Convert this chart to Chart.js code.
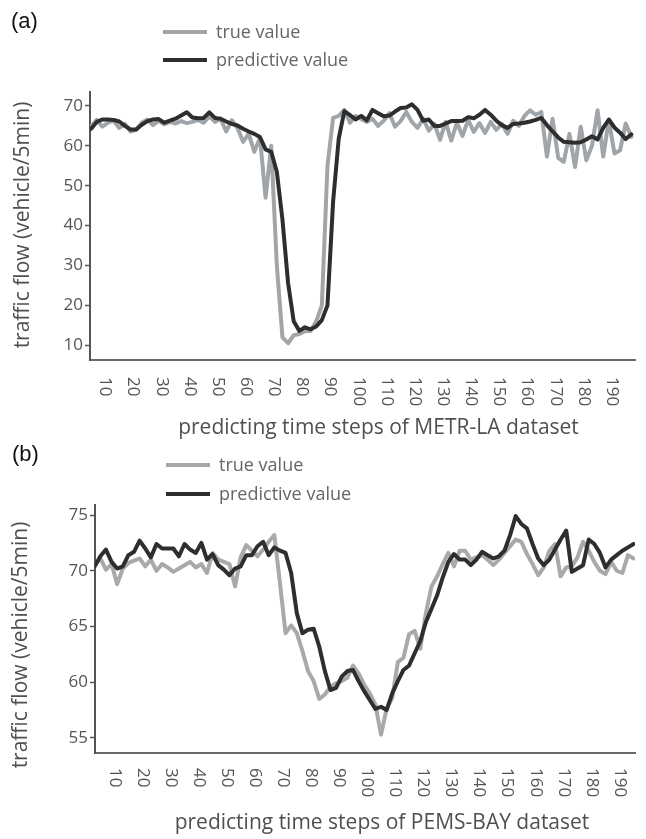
<!DOCTYPE html>
<html><head><meta charset="utf-8">
<script src="https://cdn.jsdelivr.net/npm/chart.js@4.4.1/dist/chart.umd.min.js"></script>
<style>
html,body{margin:0;padding:0;background:#fff;}
#wrap{position:relative;width:646px;height:839px;overflow:hidden;font-family:"Open Sans",sans-serif;}
.pl{position:absolute;font-family:"Liberation Sans",Arial,sans-serif;font-size:22px;color:#111;line-height:1;}
.lg{position:absolute;font-family:"Open Sans",sans-serif;font-size:18px;color:#666;line-height:1;white-space:nowrap;}
.sw{position:absolute;height:4px;width:44px;}
canvas{position:absolute;left:0;}
</style></head><body>
<div id="wrap">
  <canvas id="ca" width="646" height="440" style="top:0px"></canvas>
  <canvas id="cb" width="646" height="399" style="top:440px"></canvas>
  <div class="pl" style="left:11px;top:10px">(a)</div>
  <div class="sw" style="left:163px;top:30px;background:#a0a5aa"></div>
  <div class="lg" style="left:216px;top:22px">true value</div>
  <div class="sw" style="left:163px;top:58px;background:#2e2e2e"></div>
  <div class="lg" style="left:216px;top:50px">predictive value</div>
  <div class="pl" style="left:12px;top:443px">(b)</div>
  <div class="sw" style="left:166px;top:463px;background:#a9a9a9"></div>
  <div class="lg" style="left:219px;top:455px">true value</div>
  <div class="sw" style="left:166px;top:492px;background:#2e2e2e"></div>
  <div class="lg" style="left:219px;top:484px">predictive value</div>
</div>
<script>
// ---- data ----
const stepsA = [5,7,9,11,13,15,17,19,21,23,25,27,29,31,33,35,37,39,41,43,45,47,49,51,53,55,57,59,61,63,65,67,69,71,73,75,77,79,81,83,85,87,89,91,93,95,97,99,101,103,105,107,109,111,113,115,117,119,121,123,125,127,129,131,133,135,137,139,141,143,145,147,149,151,153,155,157,159,161,163,165,167,169,171,173,175,177,179,181,183,185,187,189,191,193,195,197];
const trueA = [65.0,66.5,64.8,65.8,66.3,64.5,65.5,63.6,64.0,65.8,
  66.6,65.2,66.3,65.4,66.0,65.6,66.2,65.7,66.0,66.5,
  65.8,67.4,66.0,66.8,63.6,66.4,64.5,61.0,63.0,58.5,
  62.0,47.0,60.0,30.0,12.0,10.5,12.5,12.8,13.5,13.6,
  16.0,20.0,55.0,67.0,67.5,69.0,65.8,67.5,66.7,
  66.0,66.8,65.0,66.3,68.2,64.8,66.2,68.5,66.0,64.5,
  66.8,63.8,65.5,61.5,66.0,61.3,65.8,62.5,66.5,63.5,
  65.7,63.2,66.0,64.0,65.5,63.0,66.3,65.0,67.5,68.9,
  67.8,68.5,57.3,66.8,57.0,56.0,63.0,54.7,64.8,56.4,
  60.0,68.9,57.3,66.4,58.1,58.9,65.6,62.3];
const predA = [64.3,66.0,66.6,66.6,66.5,66.1,65.0,64.1,64.1,65.3,
  66.2,66.6,66.7,65.8,66.3,66.8,67.6,68.4,67.1,66.9,
  67.0,68.4,67.0,66.8,66.1,65.5,65.1,64.3,63.6,63.0,
  62.2,59.1,58.5,53.5,41.5,25.6,16.0,13.6,14.5,14.0,
  14.7,16.3,20.0,46.0,61.8,68.7,67.7,66.6,67.5,
  66.4,69.0,68.2,67.4,67.6,68.6,69.5,69.6,70.4,69.0,
  66.3,66.6,65.0,65.0,65.6,66.2,66.2,66.3,67.2,66.9,
  67.8,69.0,67.8,66.3,65.2,64.5,65.5,65.6,65.8,66.1,
  66.5,67.0,65.2,63.6,62.1,61.0,60.9,60.8,60.9,61.6,
  62.4,61.6,64.5,66.6,64.6,63.3,61.7,62.9];

const stepsB = [3,5,7,9,11,13,15,17,19,21,23,25,27,29,31,33,35,37,39,41,43,45,47,49,51,53,55,57,59,61,63,65,67,69,71,73,75,77,79,81,83,85,87,89,91,93,95,97,99,101,103,105,107,109,111,113,115,117,119,121,123,125,127,129,131,133,135,137,139,141,143,145,147,149,151,153,155,157,159,161,163,165,167,169,171,173,175,177,179,181,183,185,187,189,191,193,195];
const trueB = [70.5,71.1,70.1,70.6,68.8,70.2,70.7,70.9,71.1,70.4,
  71.0,70.0,70.6,70.3,69.9,70.2,70.5,70.8,70.3,70.6,
  69.8,71.6,71.0,70.8,70.6,68.6,71.2,72.3,71.8,71.3,
  71.9,72.6,73.2,68.9,64.4,65.1,64.4,62.8,61.0,60.1,
  58.5,58.9,59.6,59.9,60.1,60.4,61.5,60.8,59.8,59.0,
  58.0,55.3,57.6,58.6,61.8,62.2,64.3,64.6,63.0,66.2,
  68.6,69.5,70.6,71.6,70.4,71.8,71.8,71.0,71.2,71.4,
  71.0,70.5,71.0,71.6,72.2,72.8,72.6,71.5,70.6,69.6,
  70.3,71.8,72.4,69.5,70.3,70.4,71.2,72.6,71.8,70.8,
  70.0,69.7,70.8,70.0,69.8,71.4,71.1];
const predB = [70.4,71.3,71.9,70.8,70.2,70.4,71.4,71.7,72.7,72.0,
  71.2,72.4,72.0,72.0,72.0,71.3,72.4,71.9,71.6,72.5,
  71.0,71.5,70.5,70.1,69.6,70.2,70.4,71.4,71.4,72.2,
  72.6,71.4,72.1,71.8,71.6,69.8,66.2,64.4,64.7,64.8,
  63.2,61.0,59.3,59.5,60.5,61.0,61.1,60.1,59.2,58.4,
  57.6,57.8,57.5,59.0,60.1,61.1,61.5,62.6,63.7,65.4,
  66.6,67.8,69.4,70.8,71.5,71.0,71.0,70.5,71.0,71.7,
  71.4,71.1,71.3,71.8,73.2,74.9,74.2,73.8,72.4,71.1,
  70.5,71.0,71.9,72.8,73.6,69.9,70.2,70.5,72.8,72.4,
  71.6,70.3,71.0,71.4,71.8,72.1,72.4];

const xTickLabels = [10,20,30,40,50,60,70,80,90,100,110,120,130,140,150,160,170,180,190];
const yTicksA = [10,20,30,40,50,60,70];
const yTicksB = [55,60,65,70,75];

const yTitle = 'traffic flow (vehicle/5min)';
const xTitleA = 'predicting time steps of METR-LA dataset';
const xTitleB = 'predicting time steps of PEMS-BAY dataset';

// ---- drawing helpers ----
const pts = (xs, ys) => xs.map((x, i) => ({x, y: ys[i]}));

const decor = {
  id: 'decor',
  afterDraw(chart, args, o) {
    const ctx = chart.ctx, xs = chart.scales.x, ca = chart.chartArea;
    ctx.save();
    ctx.fillStyle = '#555';
    ctx.font = '17px "Open Sans"';
    ctx.textAlign = 'left';
    ctx.textBaseline = 'middle';
    xTickLabels.forEach(v => {
      const px = xs.getPixelForValue(v);
      ctx.save();
      ctx.translate(px, ca.bottom + o.labelGap);
      ctx.rotate(Math.PI / 2);
      ctx.fillText(String(v), 0, 0);
      ctx.restore();
    });
    ctx.font = '21px "Open Sans"';
    ctx.textAlign = 'center';
    ctx.fillStyle = '#505050';
    ctx.fillText(o.xTitle, (ca.left + ca.right) / 2 + o.xTitleDx, ca.bottom + o.xTitleDy);
    ctx.save();
    ctx.translate(o.yTitleX, (ca.top + ca.bottom) / 2 + o.yTitleDy);
    ctx.rotate(-Math.PI / 2);
    ctx.fillText(yTitle, 0, 0);
    ctx.restore();
    ctx.restore();
  }
};

function makeChart(id, cfg) {
  return new Chart(document.getElementById(id), {
    type: 'line',
    data: {
      datasets: [
        {label: 'predictive value', data: pts(cfg.steps, cfg.pred), borderColor: '#2e2e2e', borderWidth: 4, order: 0},
        {label: 'true value', data: pts(cfg.steps, cfg.truth), borderColor: cfg.grayColor, borderWidth: 4, order: 1}
      ]
    },
    options: {
      responsive: false,
      animation: false,
      events: [],
      layout: {padding: {left: 0, right: cfg.padRight, top: cfg.padTop, bottom: 0}},
      elements: {point: {radius: 0}, line: {tension: 0, borderJoinStyle: 'round', borderCapStyle: 'round'}},
      plugins: {legend: {display: false}, tooltip: {enabled: false}, decor: cfg.decor},
      scales: {
        x: {
          type: 'linear', min: cfg.xmin, max: cfg.xmax,
          afterBuildTicks: s => { s.ticks = xTickLabels.map(v => ({value: v})); },
          afterFit: s => { s.height = cfg.xHeight; },
          ticks: {display: false},
          grid: {display: false},
          border: {display: true, color: '#6a6a6a', width: 2}
        },
        y: {
          type: 'linear', min: cfg.ymin, max: cfg.ymax,
          afterBuildTicks: s => { s.ticks = cfg.yTicks.map(v => ({value: v})); },
          afterFit: s => { s.width = cfg.yWidth; },
          ticks: {font: {family: 'Open Sans', size: 17}, color: '#555', padding: 2},
          grid: {drawOnChartArea: false, drawTicks: true, tickLength: 5, color: '#555', tickWidth: 1.5},
          border: {display: true, color: '#555', width: 2}
        }
      }
    },
    plugins: [decor]
  });
}

makeChart('ca', {
  steps: stepsA, pred: predA, truth: trueA, grayColor: '#a0a5aa',
  xmin: 4.6, xmax: 198.3, ymin: 6.3, ymax: 73.5, yTicks: yTicksA,
  padTop: 92, padRight: 11, xHeight: 80, yWidth: 90,
  decor: {labelGap: 17, xTitle: xTitleA, xTitleDx: 16, xTitleDy: 68, yTitleX: 23, yTitleDy: -1}
});
makeChart('cb', {
  steps: stepsB, pred: predB, truth: trueB, grayColor: '#a9a9a9',
  xmin: 3.1, xmax: 195.5, ymin: 53.65, ymax: 75.9, yTicks: yTicksB,
  padTop: 65, padRight: 11, xHeight: 86, yWidth: 95,
  decor: {labelGap: 15, xTitle: xTitleB, xTitleDx: 17, xTitleDy: 70, yTitleX: 21, yTitleDy: 16}
});
</script>
</body></html>
